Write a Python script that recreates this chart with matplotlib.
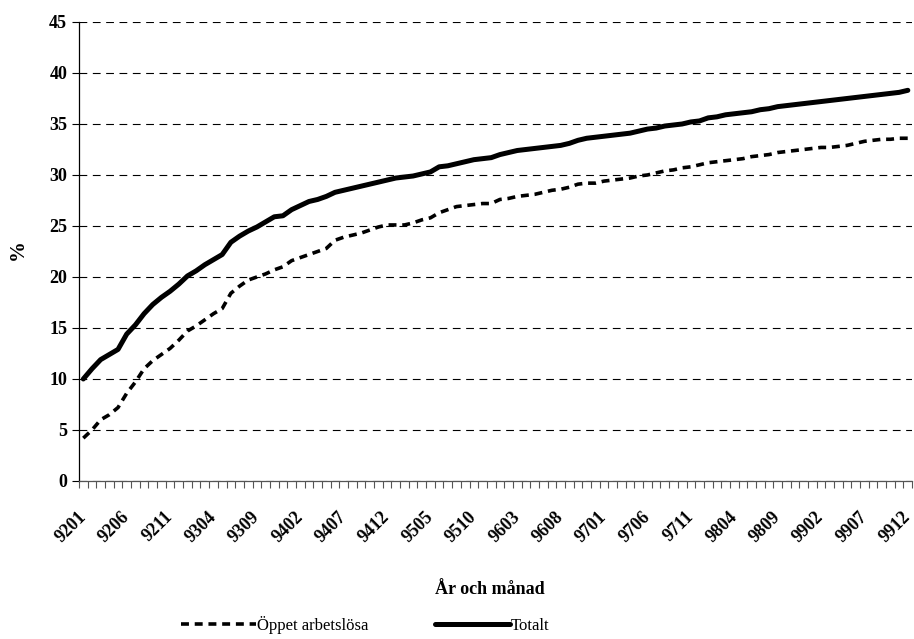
import numpy as np
import matplotlib.pyplot as plt
import matplotlib.transforms as mtransforms

plt.rcParams['font.family'] = ['Liberation Serif', 'DejaVu Serif']

# månader 9201 .. 9912
manader = [f"{ar:02d}{m:02d}" for ar in range(92, 100) for m in range(1, 13)]

totalt = [10.0, 11.0, 11.9, 12.4, 12.9, 14.4, 15.3, 16.4, 17.3, 18.0,
          18.6, 19.3, 20.1, 20.6, 21.2, 21.7, 22.2, 23.4, 24.0, 24.5,
          24.9, 25.4, 25.9, 26.0, 26.6, 27.0, 27.4, 27.6, 27.9, 28.3,
          28.5, 28.7, 28.9, 29.1, 29.3, 29.5, 29.7, 29.8, 29.9, 30.1,
          30.3, 30.8, 30.9, 31.1, 31.3, 31.5, 31.6, 31.7, 32.0, 32.2,
          32.4, 32.5, 32.6, 32.7, 32.8, 32.9, 33.1, 33.4, 33.6, 33.7,
          33.8, 33.9, 34.0, 34.1, 34.3, 34.5, 34.6, 34.8, 34.9, 35.0,
          35.2, 35.3, 35.6, 35.7, 35.9, 36.0, 36.1, 36.2, 36.4, 36.5,
          36.7, 36.8, 36.9, 37.0, 37.1, 37.2, 37.3, 37.4, 37.5, 37.6,
          37.7, 37.8, 37.9, 38.0, 38.1, 38.3]

oppet = [4.2, 5.0, 6.0, 6.5, 7.2, 8.6, 9.7, 11.0, 11.8, 12.4,
         13.0, 13.8, 14.7, 15.2, 15.8, 16.4, 16.9, 18.4, 19.1, 19.7,
         20.0, 20.3, 20.7, 21.0, 21.6, 21.9, 22.2, 22.5, 22.8, 23.6,
         23.9, 24.1, 24.3, 24.6, 24.9, 25.1, 25.1, 25.1, 25.3, 25.6,
         25.8, 26.3, 26.6, 26.9, 27.0, 27.1, 27.2, 27.2, 27.6, 27.7,
         27.9, 28.0, 28.1, 28.3, 28.5, 28.6, 28.8, 29.1, 29.2, 29.2,
         29.4, 29.5, 29.6, 29.7, 29.9, 30.0, 30.2, 30.4, 30.5, 30.7,
         30.8, 31.0, 31.2, 31.3, 31.4, 31.5, 31.6, 31.8, 31.9, 32.0,
         32.2, 32.3, 32.4, 32.5, 32.6, 32.7, 32.7, 32.8, 32.9, 33.1,
         33.3, 33.4, 33.5, 33.5, 33.6, 33.6]

x = np.arange(len(manader))

fig = plt.figure(figsize=(9.14, 6.39), dpi=100)
ax = fig.add_axes([0.0864, 0.2473, 0.9116, 0.7183])

l1, = ax.plot(x, oppet, color='black', lw=2.6, ls=(0, (2.2, 1.6)),
              label='Öppet arbetslösa')
l2, = ax.plot(x, totalt, color='black', lw=3.6, solid_capstyle='round',
              label='Totalt')

ax.set_xlim(-0.5, len(manader) - 0.5)
ax.set_ylim(0, 45)
ax.set_yticks(np.arange(0, 46, 5))
ax.yaxis.grid(True, color='black', lw=0.8, ls=(0, (7, 5)))
ax.set_axisbelow(True)

ax.set_xticks(x[::5])
ax.set_xticklabels(manader[::5], rotation=45, ha='right', va='center',
                   rotation_mode='anchor', fontsize=13, fontweight='bold')
# flytta etiketterna lite åt vänster
skift = mtransforms.ScaledTranslation(-7 / 100, 0, fig.dpi_scale_trans)
for t in ax.get_xticklabels():
    t.set_transform(t.get_transform() + skift)
ax.set_xticks(np.arange(-0.5, len(manader)), minor=True)
ax.tick_params(axis='x', which='major', length=0, pad=24)
ax.tick_params(axis='x', which='minor', length=5, width=0.8, color='#555555')
ax.tick_params(axis='y', length=5, width=0.8, labelsize=13)
for t in ax.get_yticklabels():
    t.set_fontweight('bold')

for s in ['top', 'right']:
    ax.spines[s].set_visible(False)
ax.spines['left'].set_linewidth(0.9)
ax.spines['bottom'].set_linewidth(0.9)
ax.spines['bottom'].set_color('#555555')

fig.text(0.02, 0.61, '%', rotation=90, fontsize=15, fontweight='bold',
         ha='center', va='center')
fig.text(0.536, 0.077, 'År och månad', fontsize=13, fontweight='bold',
         ha='center', va='center')

fig.legend(handles=[l1, l2], loc='center', bbox_to_anchor=(0.400, 0.022),
           ncol=2, frameon=False, fontsize=12, handlelength=4.5,
           handletextpad=0.05, columnspacing=4.0)

fig.savefig('out.png', dpi=100)
